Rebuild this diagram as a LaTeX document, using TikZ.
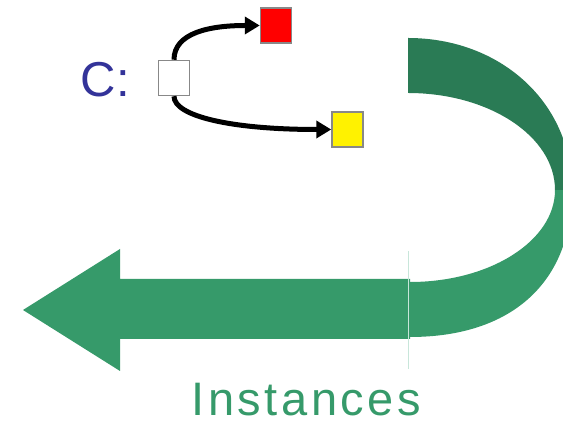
\documentclass[tikz,border=0pt]{standalone}
\usepackage{fontspec}
\setmainfont{Liberation Sans}
\newfontfamily\spacedsans[LetterSpace=7.5]{Liberation Sans}
\usetikzlibrary{arrows.meta}
\definecolor{bandDark}{HTML}{2A7B55}
\definecolor{bandLight}{HTML}{369A6A}
\definecolor{seam}{HTML}{C8E6DA}
\definecolor{labelBlue}{HTML}{333399}
\definecolor{boxGray}{HTML}{888888}
\tikzset{
  objbox/.style={draw=boxGray, line width=1.5pt, minimum width=31pt,
    minimum height=35pt, inner sep=0pt},
  reflink/.style={line width=5pt, -{Triangle[length=15pt,width=17pt]}},
}
\begin{document}
\begin{tikzpicture}[x=1pt,y=1pt]
\useasboundingbox (0,0) rectangle (563,422);

% the turning band, running off the right edge
\begin{scope}
  \clip (0,0) rectangle (563,422);
  \fill[bandLight] (555,232) arc[start angle=0,end angle=-90,x radius=145pt,y radius=92pt]
    -- (410,85) .. controls (512,85) and (572,140) .. (572,232) -- cycle;
  \fill[bandDark] (408,384) .. controls (500,384) and (572,320) .. (572,232)
    -- (555,232) arc[start angle=0,end angle=90,x radius=147pt,y radius=97pt] -- cycle;
\end{scope}

% the straight arrow pointing left
\fill[bandLight] (410,143) -- (120,143) -- (120,173) -- (23,112) -- (120,51)
  -- (120,83) -- (410,83) -- cycle;
\draw[seam, line width=0.8pt] (408,171) -- (408,53);

% label under the arrow
\node[anchor=base west, inner sep=0pt, text=bandLight, font=\spacedsans\fontsize{47}{50}\selectfont]
  (inst) at (191.5,6.5) {Instances};

% class C and its two objects
\node[anchor=base west, inner sep=0pt, text=labelBlue, font=\fontsize{49}{54}\selectfont]
  (clabel) at (80.6,325) {C:};
\node[objbox, fill=white] (cbox) at (174,344) {};
\node[objbox, fill=red] (rbox) at (276,396.5) {};
\node[objbox, fill=yellow] (ybox) at (347.5,292.5) {};

\draw[reflink] (cbox.north) .. controls +(0,27) and +(-50,0) .. (rbox.west);
\draw[reflink] (cbox.south) .. controls +(0,-20) and +(-100,0) .. (ybox.west);
\end{tikzpicture}
\end{document}
